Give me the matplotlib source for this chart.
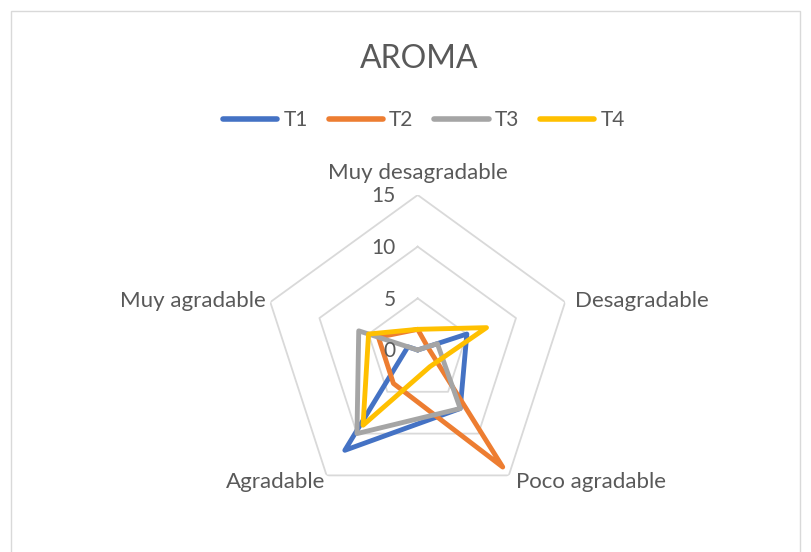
#!/usr/bin/env python3
"""Radar chart: AROMA ratings per treatment."""

import matplotlib

matplotlib.use("Agg")
import matplotlib.pyplot as plt
import matplotlib.transforms as mtransforms
import numpy as np
from matplotlib.lines import Line2D

categories = ["Muy desagradable", "Desagradable", "Poco agradable", "Agradable", "Muy agradable"]
series_names = ["T1", "T2", "T3", "T4"]
t1 = [0, 5, 7, 12, 1]
t2 = [2, 1, 14, 4, 4]
t3 = [0, 2, 7, 10, 6]
t4 = [2, 7, 2, 9, 5]
ring_ticks = [0, 5, 10, 15]

colors = ["#4472C4", "#ED7D31", "#A5A5A5", "#FFC000"]
text_color = "#595959"
grid_color = "#D9D9D9"

plt.rcParams["font.family"] = ["Lato", "DejaVu Sans"]

W, H, DPI = 812, 552, 100
fig = plt.figure(figsize=(W / DPI, H / DPI), dpi=DPI)
fig.patch.set_facecolor("white")

# axes placed so that center sits at (417.7, 350) px with radius 155 px
cx, cy, rad = 417.7, 350.0, 155.0
ax = fig.add_axes(
    [(cx - rad) / W, (H - cy - rad) / H, 2 * rad / W, 2 * rad / H], projection="polar"
)
ax.set_theta_offset(np.pi / 2)
ax.set_theta_direction(-1)
ax.set_ylim(0, ring_ticks[-1])
ax.grid(False)
ax.spines["polar"].set_visible(False)
ax.set_xticks([])
ax.set_yticks([])
ax.set_facecolor("none")

n = len(categories)
angles = np.linspace(0, 2 * np.pi, n, endpoint=False)
closed = np.append(angles, angles[0])

# pentagon gridlines
for r in ring_ticks[1:]:
    ax.plot(closed, [r] * (n + 1), color=grid_color, linewidth=1.3, zorder=1)

for name, vals, col in zip(series_names, [t1, t2, t3, t4], colors):
    ax.plot(
        closed,
        list(vals) + [vals[0]],
        color=col,
        linewidth=3.5,
        solid_joinstyle="round",
        solid_capstyle="round",
        label=name,
        zorder=3,
    )

# radial value labels, left of the top axis
for r in ring_ticks:
    tr = mtransforms.offset_copy(ax.transData, fig=fig, x=-16, y=-1, units="points")
    ax.text(0, r, str(r), transform=tr, ha="right", va="center",
            fontsize=15, color=text_color)

# category labels around the outer ring
offsets = [(0, 16, "center"), (7, 1, "left"), (5, -4.5, "left"), (-1, -4.5, "right"), (-3, 1, "right")]
for ang, label, (dx, dy, ha) in zip(angles, categories, offsets):
    tr = mtransforms.offset_copy(ax.transData, fig=fig, x=dx, y=dy, units="points")
    ax.text(ang, ring_ticks[-1], label, transform=tr, ha=ha, va="center",
            fontsize=16, color=text_color)

fig.text(419 / W, 1 - 58.5 / H, "AROMA", ha="center", va="center",
         fontsize=23, color=text_color)

handles = [
    Line2D([0], [0], color=c, linewidth=4, solid_capstyle="round") for c in colors
]
leg = fig.legend(
    handles,
    series_names,
    loc="center",
    bbox_to_anchor=(424 / W, 1 - 120 / H),
    ncol=4,
    frameon=False,
    fontsize=15,
    handlelength=2.6,
    handletextpad=0.3,
    columnspacing=1.0,
)
for t in leg.get_texts():
    t.set_color(text_color)

# chart area border
border = plt.Rectangle((11 / W, -0.1), (800 - 11) / W, (H - 11) / H + 0.1,
                       transform=fig.transFigure, fill=False,
                       edgecolor="#D9D9D9", linewidth=1.0)
fig.add_artist(border)

fig.savefig("out.png", dpi=DPI)
